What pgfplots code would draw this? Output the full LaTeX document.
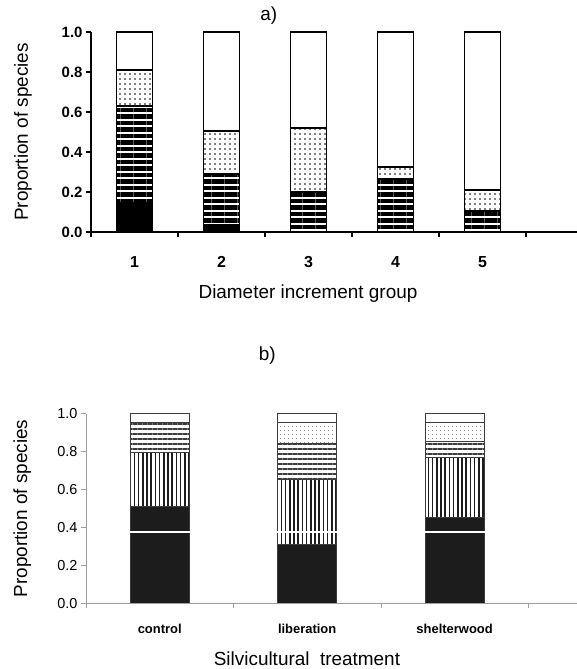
\documentclass[border=0pt]{standalone}
\usepackage{fontspec}
\setmainfont{Liberation Sans}
\usepackage{pgfplots}
\pgfplotsset{compat=1.18}
\usetikzlibrary{patterns.meta}

\definecolor{barblack}{RGB}{28,28,28}
\definecolor{linegray}{RGB}{60,60,60}

\pgfplotsset{
  panel/.style={
    scale only axis, anchor=south west,
    ybar stacked,
    ymin=0, ymax=1,
    axis x line*=bottom, axis y line*=left,
    tick align=outside, major tick length=5bp,
    ytick={0,0.2,...,1},
    yticklabel style={/pgf/number format/fixed, /pgf/number format/fixed zerofill,
      /pgf/number format/precision=1, /pgf/number format/assume math mode=true},
    x tick label as interval,
    every axis title/.append style={font=\fontsize{19}{19}\selectfont, anchor=center},
    every axis x label/.append style={font=\fontsize{19}{19}\selectfont, anchor=center},
    every axis y label/.append style={font=\fontsize{19}{19}\selectfont, anchor=center},
  },
}

\begin{document}
\begin{tikzpicture}
\path[use as bounding box] (0,0) rectangle (577bp,669bp);

% a) diameter increment groups
\begin{axis}[panel,
  at={(91bp,437bp)}, width=486bp, height=200bp,
  bar width=36bp,
  xmin=0.5, xmax=6.086,
  xtick={0.5,1.5,...,5.5}, xticklabels={1,2,3,4,5},
  axis line style={black, line width=1.2bp},
  tick style={black, line width=1.2bp},
  yticklabel style={font=\bfseries\fontsize{15}{15}\selectfont},
  xticklabel style={font=\bfseries\fontsize{16}{16}\selectfont, yshift=-16bp},
  title={a)}, title style={at={(axis description cs:0.366,1.05)}},
  xlabel={Diameter increment group},
  xlabel style={at={(axis description cs:0.4465,-0.31)}},
  ylabel={Proportion of species},
  ylabel style={at={(axis description cs:-0.14,0.5)}},
  every axis plot/.append style={draw=black, line width=1.8bp},
]
\addplot[fill=black] coordinates {(1,0.145) (2,0.035) (3,0) (4,0) (5,0)};
\addplot[pattern={Lines[angle=0,distance=6.5bp,line width=4.3bp]}, pattern color=black]
  coordinates {(1,0.485) (2,0.255) (3,0.2) (4,0.265) (5,0.105)};
\addplot[pattern={Dots[distance=5bp,radius=0.95bp]}, pattern color=black]
  coordinates {(1,0.18) (2,0.215) (3,0.32) (4,0.06) (5,0.105)};
\addplot[fill=white] coordinates {(1,0.19) (2,0.495) (3,0.48) (4,0.675) (5,0.79)};
\end{axis}

% b) silvicultural treatments
\begin{axis}[panel,
  at={(86bp,65.7bp)}, width=491bp, height=189.6bp,
  bar width=59bp,
  xmin=0.5, xmax=3.83,
  xtick={0.5,1.5,2.5,3.5}, xticklabels={control,liberation,shelterwood},
  axis on top,
  axis line style={gray!75, line width=1bp},
  tick style={gray!75, line width=0.8bp},
  yticklabel style={font=\fontsize{14.5}{14.5}\selectfont},
  xticklabel style={font=\bfseries\fontsize{13}{13}\selectfont, yshift=-12bp},
  extra y ticks={0.375}, extra y tick labels={},
  extra y tick style={major tick length=0pt, grid=major,
    major grid style={white, line width=1.6bp, shorten <=4bp}},
  title={b)}, title style={at={(axis description cs:0.369,1.273)}},
  xlabel={Silvicultural\ \ treatment},
  xlabel style={at={(axis description cs:0.45,-0.29)}},
  ylabel={Proportion of species},
  ylabel style={at={(axis description cs:-0.13,0.5)}},
  every axis plot/.append style={draw=linegray, line width=1bp},
]
\addplot[fill=barblack] coordinates {(1,0.51) (2,0.31) (3,0.45)};
\addplot[pattern={Lines[angle=90,distance=4.2bp,line width=1.5bp]}, pattern color=barblack]
  coordinates {(1,0.285) (2,0.345) (3,0.32)};
\addplot[pattern={Lines[angle=0,distance=5bp,line width=1.2bp]}, pattern color=linegray]
  coordinates {(1,0.16) (2,0.19) (3,0.085)};
\addplot[pattern={Dots[distance=3.6bp,radius=0.6bp]}, pattern color=gray]
  coordinates {(1,0) (2,0.107) (3,0.10)};
\addplot[fill=white] coordinates {(1,0.045) (2,0.048) (3,0.045)};
\end{axis}
\end{tikzpicture}
\end{document}
